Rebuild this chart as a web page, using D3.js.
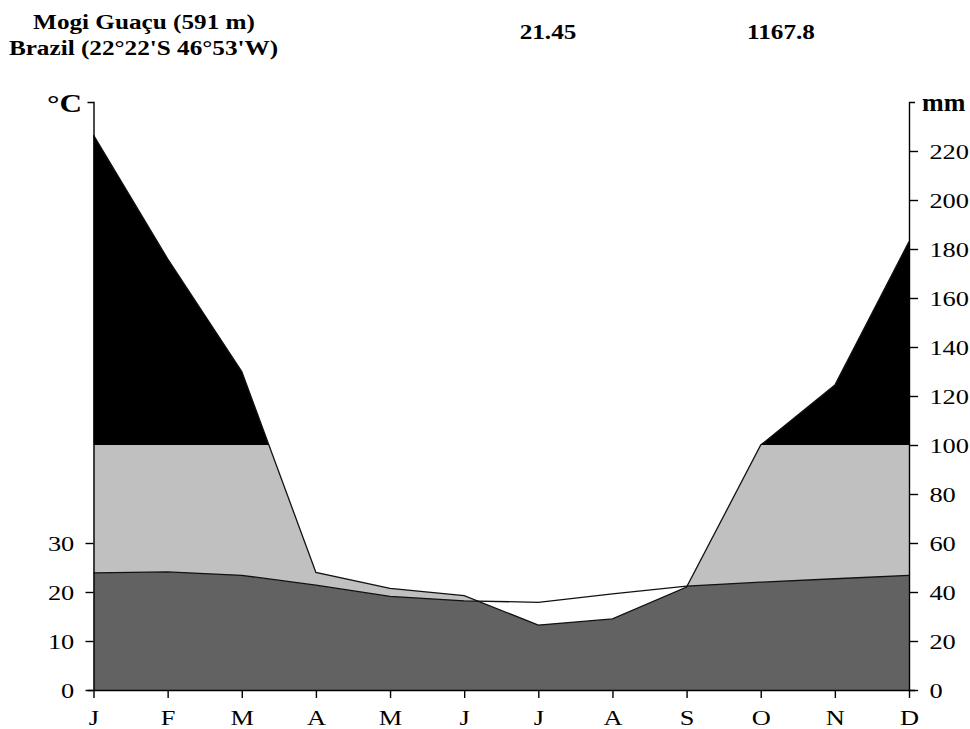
<!DOCTYPE html>
<html>
<head>
<meta charset="utf-8">
<script src="https://cdn.jsdelivr.net/npm/d3@7"></script>
<style>
  body { margin: 0; background: #fff; }
  text { font-family: "Liberation Serif", "Times New Roman", serif; fill: #000; }
</style>
</head>
<body>
<div id="chart"></div>
<script>
const months = ["J", "F", "M", "A", "M", "J", "J", "A", "S", "O", "N", "D"];
const temperature = [23.9, 24.1, 23.4, 21.4, 19.1, 18.2, 17.9, 19.6, 21.2, 22.0, 22.7, 23.4];
const precipitation = [226.5, 176, 130, 48, 41.5, 38.5, 26.5, 29, 42, 100, 124.5, 183];
const tempTicks = [0, 10, 20, 30];
const mmTicks = [0, 20, 40, 60, 80, 100, 120, 140, 160, 180, 200, 220];
const stationName = "Mogi Guaçu (591 m)";
const stationPlace = "Brazil (22°22'S 46°53'W)";
const meanTemp = "21.45";
const totalPrecip = "1167.8";

const W = 970, H = 729;
const stretch = "scale(1.2,1)";

const svg = d3.select("#chart").append("svg")
    .attr("width", W)
    .attr("height", H);

const x = d3.scaleLinear().domain([0, 11]).range([93.5, 909]);
const yMm = d3.scaleLinear().domain([0, 240]).range([690, 102]);
const yT = d3.scaleLinear().domain([0, 120]).range([690, 102]);

const idx = d3.range(12);

// clip regions: above / below 100 mm
const defs = svg.append("defs");
defs.append("clipPath").attr("id", "above100")
    .append("rect").attr("x", 0).attr("y", 0).attr("width", W).attr("height", yMm(100));
defs.append("clipPath").attr("id", "below100")
    .append("rect").attr("x", 0).attr("y", yMm(100)).attr("width", W).attr("height", H - yMm(100));

const precipArea = d3.area()
    .x(i => x(i))
    .y0(yMm(0))
    .y1(i => yMm(precipitation[i]));

const tempArea = d3.area()
    .x(i => x(i))
    .y0(yT(0))
    .y1(i => yT(temperature[i]));

defs.append("clipPath").attr("id", "underPrecip")
    .append("path").attr("d", precipArea(idx));

// very humid part (> 100 mm)
svg.append("path")
    .attr("d", precipArea(idx))
    .attr("fill", "#000")
    .attr("clip-path", "url(#above100)");

// humid part
svg.append("path")
    .attr("d", precipArea(idx))
    .attr("fill", "#c0c0c0")
    .attr("clip-path", "url(#below100)");

// below both curves
svg.append("path")
    .attr("d", tempArea(idx))
    .attr("fill", "#626262")
    .attr("clip-path", "url(#underPrecip)");

// curves
svg.append("path")
    .attr("d", d3.line().x(i => x(i)).y(i => yMm(precipitation[i]))(idx))
    .attr("fill", "none")
    .attr("stroke", "#111")
    .attr("stroke-width", 1.3);

svg.append("path")
    .attr("d", d3.line().x(i => x(i)).y(i => yT(temperature[i]))(idx))
    .attr("fill", "none")
    .attr("stroke", "#111")
    .attr("stroke-width", 1.3);

// axes
const styleAxis = g => {
    g.selectAll("path, line").attr("stroke", "#000").attr("stroke-width", 1.4);
    g.selectAll("text")
        .attr("font-size", 22)
        .attr("font-family", "Liberation Serif")
        .attr("fill", "#000")
        .attr("transform", stretch);
};

svg.append("g")
    .attr("transform", `translate(${x(0)},0)`)
    .call(d3.axisLeft(yT).tickValues(tempTicks).tickSize(8).tickSizeOuter(6).tickPadding(8))
    .call(styleAxis);

svg.append("g")
    .attr("transform", `translate(${x(11)},0)`)
    .call(d3.axisRight(yMm).tickValues(mmTicks).tickSize(9).tickSizeOuter(6).tickPadding(8))
    .call(styleAxis);

svg.append("g")
    .attr("transform", `translate(0,${yMm(0)})`)
    .call(d3.axisBottom(x).tickValues(idx).tickFormat(i => months[i]).tickSize(8).tickSizeOuter(0).tickPadding(11))
    .call(styleAxis);

// unit labels
svg.append("text")
    .attr("transform", `translate(82,112) ${stretch}`)
    .attr("text-anchor", "end")
    .attr("font-size", 26)
    .attr("font-weight", "bold")
    .text("°C");

svg.append("text")
    .attr("x", 922)
    .attr("y", 111)
    .attr("font-size", 26)
    .attr("font-weight", "bold")
    .text("mm");

// header
const header = [
    { t: stationName, x: 144, y: 29 },
    { t: stationPlace, x: 143.5, y: 55 },
    { t: meanTemp, x: 548, y: 39 },
    { t: totalPrecip, x: 781, y: 39 }
];
svg.selectAll(".hdr")
    .data(header)
    .join("text")
    .attr("class", "hdr")
    .attr("transform", d => `translate(${d.x},${d.y}) ${stretch}`)
    .attr("text-anchor", "middle")
    .attr("font-size", 21)
    .attr("font-weight", "bold")
    .text(d => d.t);
</script>
</body>
</html>
